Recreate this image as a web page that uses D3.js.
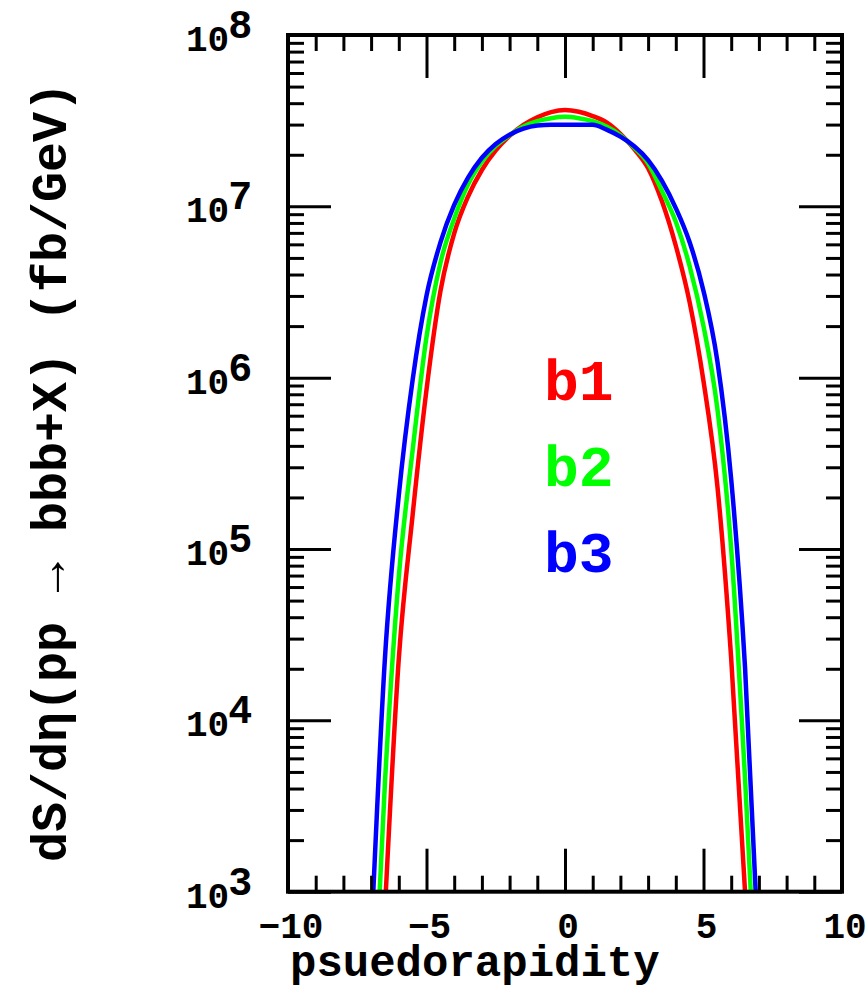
<!DOCTYPE html>
<html>
<head>
<meta charset="utf-8">
<script src="https://cdn.jsdelivr.net/npm/d3@7"></script>
<style>
  body { margin: 0; background: #fff; }
  text { font-family: 'Liberation Mono', 'DejaVu Sans Mono', monospace; font-weight: bold; }
</style>
</head>
<body>
<svg id="chart" width="867" height="990"></svg>
<script>
// Pseudorapidity grid and dS/deta (fb/GeV) for the three b-quark curves
const eta = [-7, -6.5, -6, -5.5, -5, -4.5, -4, -3.5, -3, -2.5, -2, -1.5, -1, -0.5,
             0, 0.5, 1, 1.5, 2, 2.5, 3, 3.5, 4, 4.5, 5, 5.5, 6, 6.5, 7];
const b1 = [16, 794, 2.29e4, 1.585e5, 8.51e5, 3.18e6, 6.95e6, 1.14e7, 1.63e7, 2.12e7,
            2.58e7, 2.985e7, 3.31e7, 3.55e7, 3.65e7, 3.565e7, 3.365e7, 3.09e7, 2.65e7,
            2.16e7, 1.67e7, 1.07e7, 5.89e6, 2.75e6, 9.55e5, 2.34e5, 2.29e4, 1.0e3, 25];
const b2 = [93, 4.35e3, 6.89e4, 3.78e5, 1.73e6, 4.66e6, 8.47e6, 1.34e7, 1.82e7, 2.25e7,
            2.60e7, 2.92e7, 3.14e7, 3.27e7, 3.33e7, 3.27e7, 3.14e7, 2.92e7, 2.60e7,
            2.20e7, 1.78e7, 1.23e7, 8.13e6, 4.47e6, 2.00e6, 6.61e5, 1.0e5, 4.57e3, 115];
const b3 = [516, 2.31e4, 2.06e5, 9.73e5, 3.01e6, 6.14e6, 1.02e7, 1.47e7, 1.92e7, 2.31e7,
            2.62e7, 2.84e7, 2.96e7, 2.99e7, 2.99e7, 2.99e7, 2.99e7, 2.805e7, 2.55e7,
            2.24e7, 1.86e7, 1.41e7, 9.77e6, 6.17e6, 3.21e6, 1.25e6, 2.55e5, 2.03e4, 405];

const seriesNames = ["b1", "b2", "b3"];
const seriesColors = ["#ff0000", "#00ff00", "#0000ff"];

// Axis ticks and labels
const xMajorTicks = [-10, -5, 0, 5, 10];
const xTickLabels = ["\u221210", "\u22125", "0", "5", "10"];
const xMinorTicks = [-9, -8, -7, -6, -4, -3, -2, -1, 1, 2, 3, 4, 6, 7, 8, 9];
const yMajorTicks = [1e3, 1e4, 1e5, 1e6, 1e7, 1e8];
const yExponents = ["3", "4", "5", "6", "7", "8"];
const yMinorTicks = [3, 4, 5, 6, 7].flatMap(d => [2, 3, 4, 5, 6, 7, 8, 9].map(m => m * Math.pow(10, d)));

const xTitle = "psuedorapidity";
const yTitle = "dS/d\u03b7(pp \u2192 bbb+X) (fb/GeV)";

// Plot frame
const plotLeft = 288, plotRight = 842, plotTop = 35, plotBottom = 891.7;

const svg = d3.select("#chart");
svg.append("rect").attr("width", 867).attr("height", 990).attr("fill", "#fff");

const x = d3.scaleLinear().domain([-10, 10]).range([plotLeft, plotRight]);
const y = d3.scaleLog().domain([1e3, 1e8]).range([plotBottom, plotTop]);

svg.append("defs").append("clipPath").attr("id", "plot-clip")
  .append("rect").attr("x", plotLeft).attr("y", plotTop)
  .attr("width", plotRight - plotLeft).attr("height", plotBottom - plotTop);

// Curves
const line = d3.line()
  .x(d => x(d[0]))
  .y(d => y(d[1]))
  .curve(d3.curveMonotoneX);

const curves = svg.append("g").attr("clip-path", "url(#plot-clip)");
[b1, b2, b3].forEach((vals, i) => {
  curves.append("path")
    .datum(eta.map((e, k) => [e, vals[k]]))
    .attr("d", line)
    .attr("fill", "none")
    .attr("stroke", seriesColors[i])
    .attr("stroke-width", 4.5)
    .attr("stroke-linejoin", "round");
});

// Inward ticks on all four sides
function tickGroup(axis, tx, ty) {
  const g = svg.append("g").attr("transform", `translate(${tx},${ty})`).call(axis);
  g.select(".domain").remove();
  g.selectAll(".tick line").attr("stroke", "#000").attr("stroke-width", 3);
  g.selectAll(".tick text").remove();
  return g;
}
const majorLen = 43, minorLen = 16;
tickGroup(d3.axisBottom(x).tickValues(xMajorTicks).tickSize(-majorLen), 0, plotBottom);
tickGroup(d3.axisBottom(x).tickValues(xMinorTicks).tickSize(-minorLen), 0, plotBottom);
tickGroup(d3.axisTop(x).tickValues(xMajorTicks).tickSize(-majorLen), 0, plotTop);
tickGroup(d3.axisTop(x).tickValues(xMinorTicks).tickSize(-minorLen), 0, plotTop);
tickGroup(d3.axisLeft(y).tickValues(yMajorTicks).tickSize(-majorLen), plotLeft, 0);
tickGroup(d3.axisLeft(y).tickValues(yMinorTicks).tickSize(-minorLen), plotLeft, 0);
tickGroup(d3.axisRight(y).tickValues(yMajorTicks).tickSize(-majorLen), plotRight, 0);
tickGroup(d3.axisRight(y).tickValues(yMinorTicks).tickSize(-minorLen), plotRight, 0);

// Frame
svg.append("rect")
  .attr("x", plotLeft).attr("y", plotTop)
  .attr("width", plotRight - plotLeft).attr("height", plotBottom - plotTop)
  .attr("fill", "none").attr("stroke", "#000").attr("stroke-width", 4);

// X tick labels
svg.append("g").selectAll("text")
  .data(xMajorTicks)
  .join("text")
  .attr("x", d => x(d) + 3)
  .attr("y", 938)
  .attr("text-anchor", "middle")
  .attr("font-size", 36)
  .text((d, i) => xTickLabels[i]);

// Y tick labels: 10 with superscript exponent
const yl = svg.append("g").selectAll("text")
  .data(yMajorTicks)
  .join("text")
  .attr("x", 186)
  .attr("y", d => y(d) + 16)
  .attr("font-size", 36);
yl.append("tspan").text("10");
yl.append("tspan")
  .attr("dx", -1)
  .attr("dy", -13)
  .attr("font-size", 40)
  .text((d, i) => yExponents[i]);

// Axis titles
svg.append("text")
  .attr("x", 290).attr("y", 976)
  .attr("font-size", 44)
  .text(xTitle);

svg.append("text")
  .attr("transform", "translate(66,472) rotate(-90)")
  .attr("text-anchor", "middle")
  .attr("font-size", 50)
  .text(yTitle);

// Series labels
svg.append("g").selectAll("text")
  .data(seriesNames)
  .join("text")
  .attr("x", 544)
  .attr("y", (d, i) => 400 + i * 86)
  .attr("font-size", 58)
  .attr("fill", (d, i) => seriesColors[i])
  .text(d => d);
</script>
</body>
</html>
